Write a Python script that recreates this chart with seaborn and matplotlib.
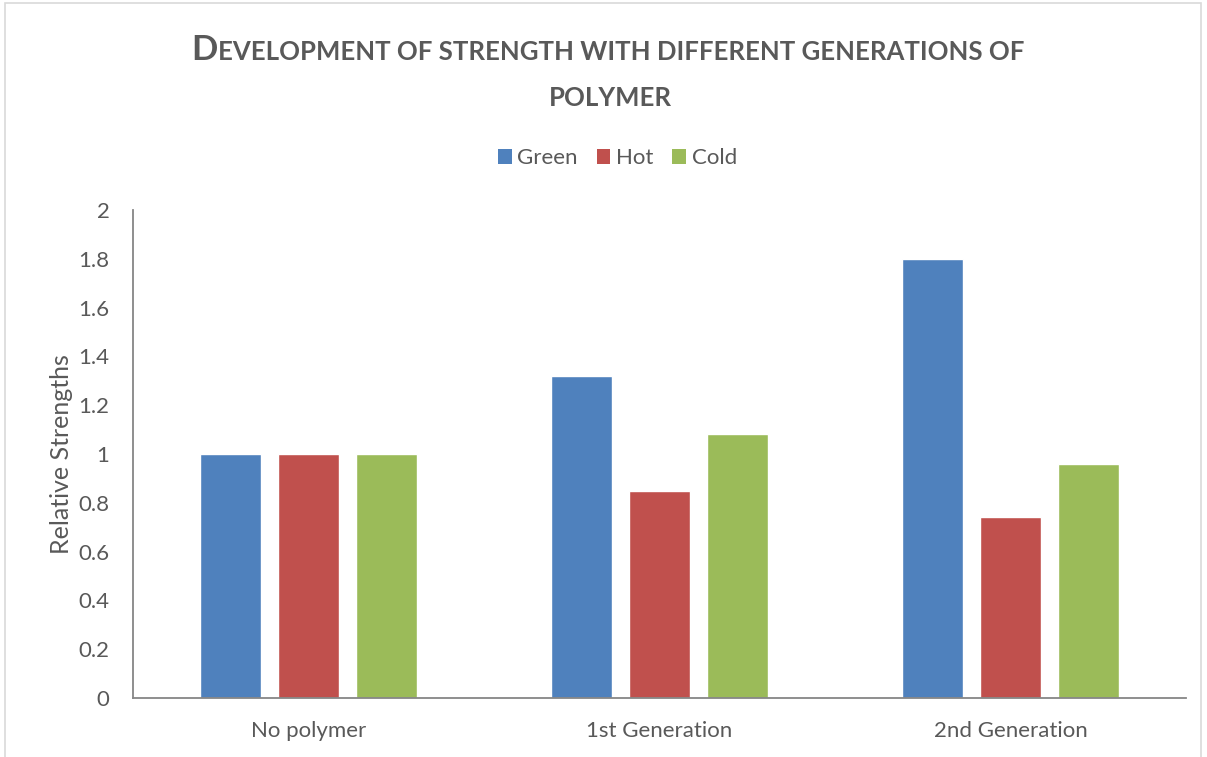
import matplotlib
matplotlib.use("Agg")
import matplotlib.pyplot as plt
import seaborn as sns
import pandas as pd
from matplotlib.patches import Rectangle, Patch

categories = ["No polymer", "1st Generation", "2nd Generation"]
series = ["Green", "Hot", "Cold"]
green = [1.00, 1.32, 1.80]
hot = [1.00, 0.85, 0.74]
cold = [1.00, 1.08, 0.96]
yticks = [0, 0.2, 0.4, 0.6, 0.8, 1, 1.2, 1.4, 1.6, 1.8, 2]
ytick_labels = ["0", "0.2", "0.4", "0.6", "0.8", "1", "1.2", "1.4", "1.6", "1.8", "2"]

colors = {"Green": "#4F81BD", "Hot": "#C0504D", "Cold": "#9BBB59"}
text_color = "#595959"

df = pd.DataFrame({
    "Category": categories * 3,
    "Series": ["Green"] * 3 + ["Hot"] * 3 + ["Cold"] * 3,
    "Value": green + hot + cold,
})

sns.set_style("white")
plt.rcParams["font.family"] = ["Lato", "DejaVu Sans"]

fig = plt.figure(figsize=(12.07, 7.57), dpi=100)
ax = fig.add_axes([0.1102, 0.0779, 0.8724, 0.6447])

sns.barplot(data=df, x="Category", y="Value", hue="Series", order=categories,
            hue_order=series, palette=colors, width=0.667, gap=0.218,
            saturation=1, ax=ax, legend=False)

ax.set_ylim(0, 2)
ax.set_xlim(-0.5, 2.5)
ax.set_yticks(yticks)
ax.set_yticklabels(ytick_labels)
ax.tick_params(axis="y", length=0, pad=17, labelsize=16, labelcolor=text_color)
ax.tick_params(axis="x", length=0, pad=16.5, labelsize=16, labelcolor=text_color)
ax.set_xlabel("")
ax.set_ylabel("Relative Strengths", fontsize=18, color=text_color, labelpad=4)

for side in ["top", "right"]:
    ax.spines[side].set_visible(False)
for side in ["left", "bottom"]:
    ax.spines[side].set_color("#868686")
    ax.spines[side].set_linewidth(1.3)

handles = [Patch(facecolor=colors[s], edgecolor="none", label=s) for s in series]
fig.legend(handles=handles, loc="center", bbox_to_anchor=(0.5115, 0.791), ncol=3,
           frameon=False, fontsize=16, handlelength=0.62, handleheight=0.62,
           handletextpad=0.25, columnspacing=0.85, labelcolor=text_color)

# Title in small caps: a large initial followed by smaller capitals
title_color = "#595959"
fig.canvas.draw()
renderer = fig.canvas.get_renderer()
first = fig.text(0, 0.9, "D", fontsize=25, fontweight="bold", color=title_color,
                 ha="left", va="baseline")
rest = fig.text(0, 0.9, "EVELOPMENT OF STRENGTH WITH DIFFERENT GENERATIONS OF",
                fontsize=18.5, fontweight="bold", color=title_color,
                ha="left", va="baseline")
w1 = first.get_window_extent(renderer).width
w2 = rest.get_window_extent(renderer).width
total = w1 + w2
x0 = 608 - total / 2
fig_w = fig.bbox.width
first.set_x(x0 / fig_w)
rest.set_x((x0 + w1) / fig_w)
base1 = 1 - 60 / 757
first.set_y(base1)
rest.set_y(base1)
fig.text(610 / fig_w, 1 - 106 / 757, "POLYMER", fontsize=18.5, fontweight="bold",
         color=title_color, ha="center", va="baseline")

# Chart area border
fig.patches.append(Rectangle((0.004, -0.01), 0.991, 1.006, transform=fig.transFigure,
                             fill=False, edgecolor="#D9D9D9", linewidth=1.2))

fig.savefig("out.png", dpi=100)
